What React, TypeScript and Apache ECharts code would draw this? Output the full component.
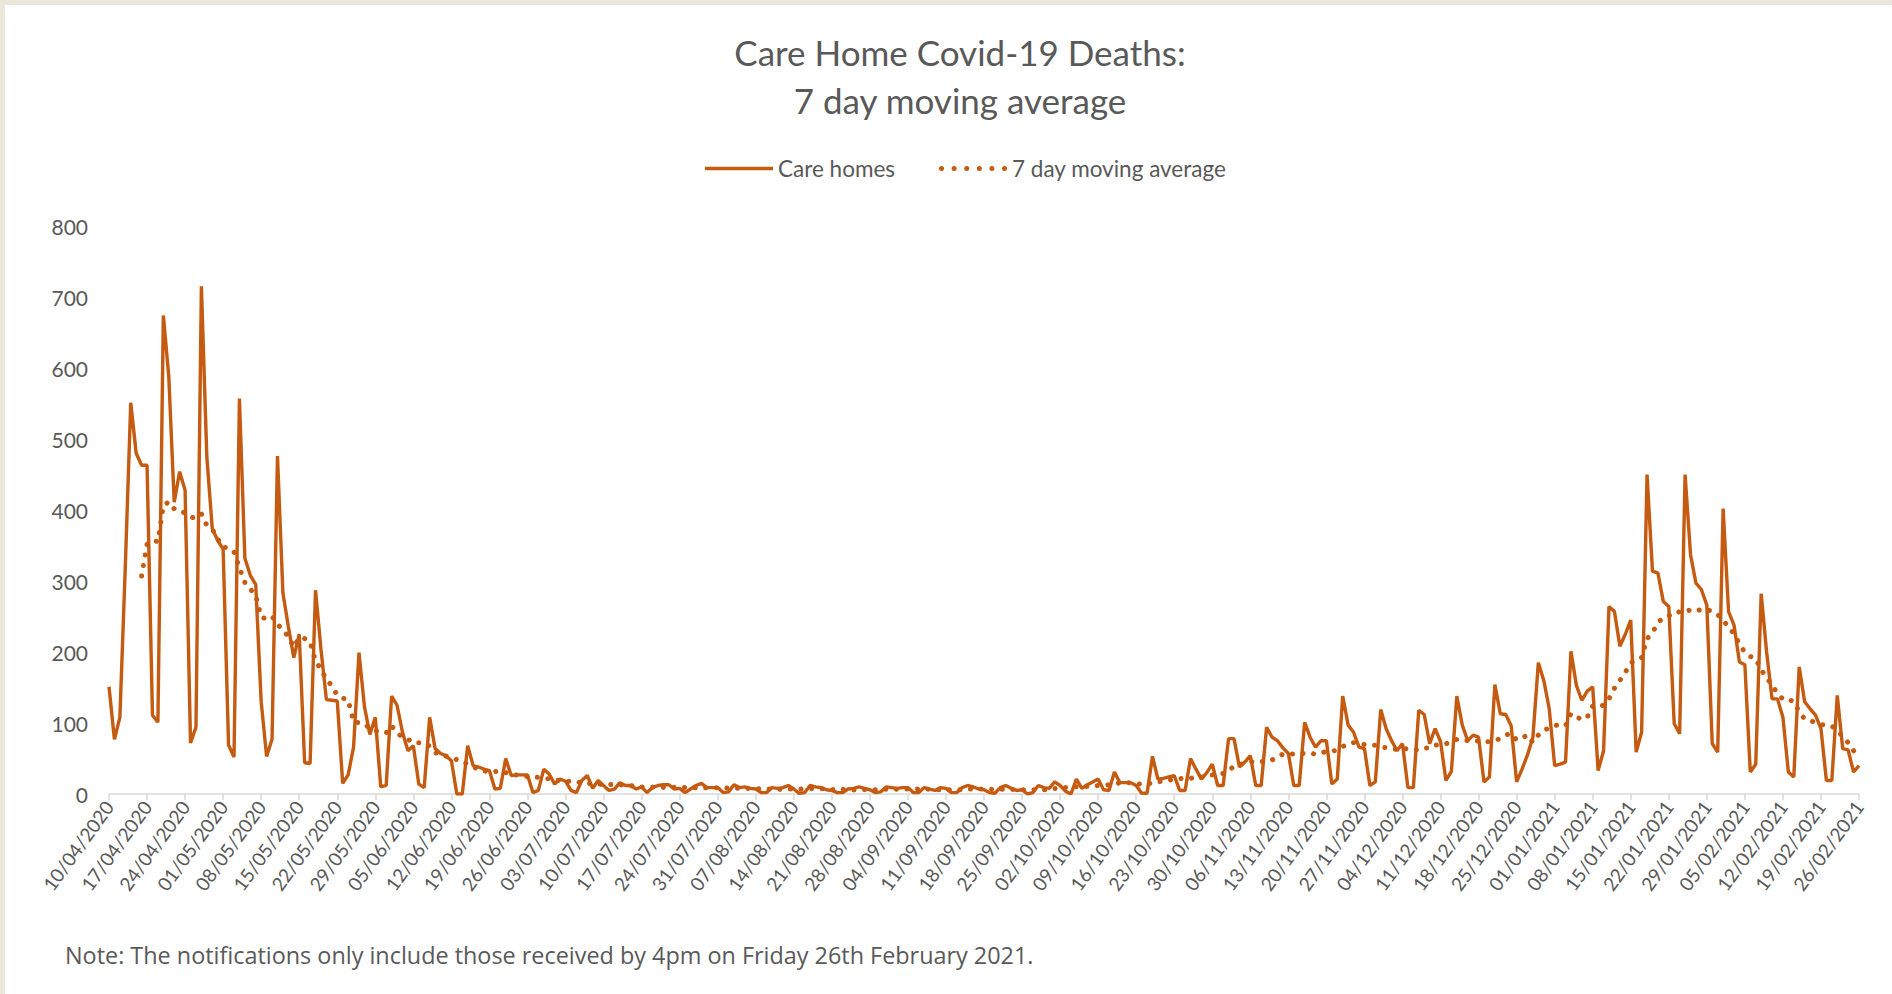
import React, { useEffect, useRef } from "react";
import * as echarts from "echarts";

// Daily care home Covid-19 death notifications
const apr2020 = [151, 77, 108, 320, 551, 480, 463, 463, 111, 101, 674, 588, 411, 454, 428, 72, 94, 715, 475, 374, 357];
const may2020 = [345, 69, 52, 557, 332, 308, 295, 130, 53, 77, 476, 283, 236, 192, 225, 44, 43, 287, 204, 133, 132, 131, 15, 27, 66, 199, 123, 84, 108, 10, 12];
const jun2020 = [138, 125, 87, 61, 68, 14, 9, 108, 64, 57, 54, 47, 0, 0, 68, 40, 38, 35, 33, 7, 8, 50, 26, 27, 27, 27, 2, 5, 35, 28];
const jul2020 = [14, 21, 18, 5, 2, 19, 26, 8, 19, 12, 5, 7, 16, 12, 12, 7, 10, 2, 9, 12, 13, 13, 7, 8, 2, 7, 12, 15, 9, 9, 9];
const aug2020 = [2, 3, 13, 9, 10, 8, 7, 2, 2, 9, 8, 9, 12, 7, 1, 2, 12, 10, 9, 6, 5, 2, 2, 7, 8, 10, 8, 6, 2, 3, 10];
const sep2020 = [9, 8, 9, 9, 2, 2, 9, 7, 5, 9, 8, 2, 2, 9, 12, 10, 7, 6, 2, 1, 9, 12, 8, 5, 6, 0, 2, 12, 9, 8];
const oct2020 = [17, 12, 4, 0, 21, 8, 13, 17, 21, 6, 5, 31, 16, 16, 16, 12, 1, 1, 53, 21, 22, 24, 26, 5, 5, 50, 35, 21, 30, 42, 12];
const nov2020 = [12, 78, 78, 38, 45, 54, 12, 12, 94, 80, 75, 65, 57, 12, 12, 101, 80, 66, 75, 75, 14, 21, 138, 97, 87, 66, 64, 12, 17, 119];
const dec2020 = [92, 75, 61, 71, 9, 9, 118, 112, 71, 92, 74, 19, 32, 138, 97, 75, 83, 80, 17, 24, 154, 113, 112, 96, 17, 35, 55, 80, 185, 160, 120];
const jan2021 = [40, 42, 45, 201, 153, 132, 145, 151, 33, 61, 264, 257, 208, 225, 245, 59, 87, 450, 314, 311, 271, 264, 99, 85, 450, 337, 297, 288, 266, 71, 59];
const feb2021 = [402, 257, 238, 186, 182, 31, 42, 282, 200, 134, 134, 108, 31, 24, 179, 130, 120, 111, 92, 19, 19, 139, 64, 62, 31, 40];

const careHomes: number[] = [
  ...apr2020, ...may2020, ...jun2020, ...jul2020, ...aug2020, ...sep2020,
  ...oct2020, ...nov2020, ...dec2020, ...jan2021, ...feb2021,
];

const yTicks = [0, 100, 200, 300, 400, 500, 600, 700, 800];
const firstDateUTC = Date.UTC(2020, 3, 10);

const pad = (n: number) => (n < 10 ? "0" + n : String(n));
const dates: string[] = careHomes.map((_, i) => {
  const d = new Date(firstDateUTC + i * 86400000);
  return `${pad(d.getUTCDate())}/${pad(d.getUTCMonth() + 1)}/${d.getUTCFullYear()}`;
});

// 7 day moving average (trailing), as in the original chart's trendline
const movingAvg: (number | string)[] = careHomes.map((_, i) => {
  if (i < 6) return "-";
  let s = 0;
  for (let k = i - 6; k <= i; k++) s += careHomes[k];
  return +(s / 7).toFixed(1);
});

const ORANGE = "#C55A11";
const GREY = "#595959";
const FONT = "Lato, 'Open Sans', sans-serif";

// legend icons: a solid bar, and a row of six dots
const SOLID_ICON = "path://M0 0.75H68V4.25H0Z";
const DOT_R = 2.5;
const dotIcon = (() => {
  let d = "";
  for (let k = 0; k < 6; k++) {
    const cx = DOT_R + k * ((68 - 2 * DOT_R) / 5);
    d += `M${cx - DOT_R} ${DOT_R}a${DOT_R} ${DOT_R} 0 1 0 ${2 * DOT_R} 0a${DOT_R} ${DOT_R} 0 1 0 ${-2 * DOT_R} 0Z`;
  }
  return "path://" + d;
})();

export default function App() {
  const ref = useRef<HTMLDivElement>(null);
  useEffect(() => {
    if (!ref.current) return;
    const chart = echarts.init(ref.current, null, { renderer: "svg" });
    chart.setOption({
      animation: false,
      backgroundColor: "transparent",
      textStyle: { fontFamily: FONT },
      title: {
        text: "Care Home Covid-19 Deaths:\n7 day moving average",
        left: 960,
        top: 28,
        padding: 0,
        textAlign: "center",
        textStyle: {
          fontFamily: FONT,
          fontSize: 35,
          fontWeight: "normal",
          color: GREY,
          lineHeight: 48,
        },
      },
      legend: {
        left: 705,
        top: 157,
        padding: 0,
        itemWidth: 68,
        itemHeight: 5,
        itemGap: 44,
        symbolKeepAspect: true,
        textStyle: { fontFamily: FONT, fontSize: 22.5, color: GREY },
        data: [
          { name: "Care homes", icon: SOLID_ICON },
          { name: "7 day moving average", icon: dotIcon },
        ],
      },
      grid: {
        left: 109,
        right: 33,
        top: 226,
        bottom: 200,
        containLabel: false,
        outerBoundsMode: "none",
      },
      xAxis: {
        type: "category",
        data: dates,
        boundaryGap: false,
        axisLine: { lineStyle: { color: "#D9D9D9", width: 1.5 } },
        axisTick: {
          interval: 6,
          length: 6,
          lineStyle: { color: "#D9D9D9", width: 1.5 },
        },
        axisLabel: {
          interval: 6,
          rotate: 54,
          fontFamily: FONT,
          fontSize: 19,
          color: GREY,
          margin: 9,
        },
        splitLine: { show: false },
      },
      yAxis: {
        type: "value",
        min: yTicks[0],
        max: yTicks[yTicks.length - 1],
        interval: 100,
        axisLine: { show: false },
        axisTick: { show: false },
        splitLine: { show: false },
        axisLabel: {
          fontFamily: FONT,
          fontSize: 21,
          color: GREY,
          margin: 21,
        },
      },
      series: [
        {
          name: "Care homes",
          type: "line",
          data: careHomes,
          symbol: "none",
          lineStyle: { color: ORANGE, width: 3.4 },
          itemStyle: { color: ORANGE },
          z: 2,
        },
        {
          name: "7 day moving average",
          type: "line",
          data: movingAvg,
          symbol: "none",
          lineStyle: {
            color: ORANGE,
            width: 5,
            type: [0.1, 10.5],
            cap: "round",
          },
          itemStyle: { color: ORANGE },
          z: 3,
        },
      ],
      graphic: [
        {
          type: "text",
          left: 65,
          top: 943,
          style: {
            text: "Note: The notifications only include those received by 4pm on Friday 26th February 2021.",
            fontFamily: "'Open Sans', 'Noto Sans', sans-serif",
            fontSize: 23.4,
            fill: GREY,
          },
        },
      ],
    });
    return () => chart.dispose();
  }, []);

  return (
    <div
      style={{
        position: "absolute",
        left: 0,
        top: 0,
        width: 1892,
        height: 994,
        background: "#EBE6DC",
        overflow: "hidden",
      }}
    >
      <div
        style={{
          position: "absolute",
          left: 5,
          top: 5,
          width: 1887,
          height: 989,
          background: "#FFFFFF",
        }}
      />
      <div
        ref={ref}
        style={{ position: "absolute", left: 0, top: 0, width: 1892, height: 994 }}
      />
    </div>
  );
}
